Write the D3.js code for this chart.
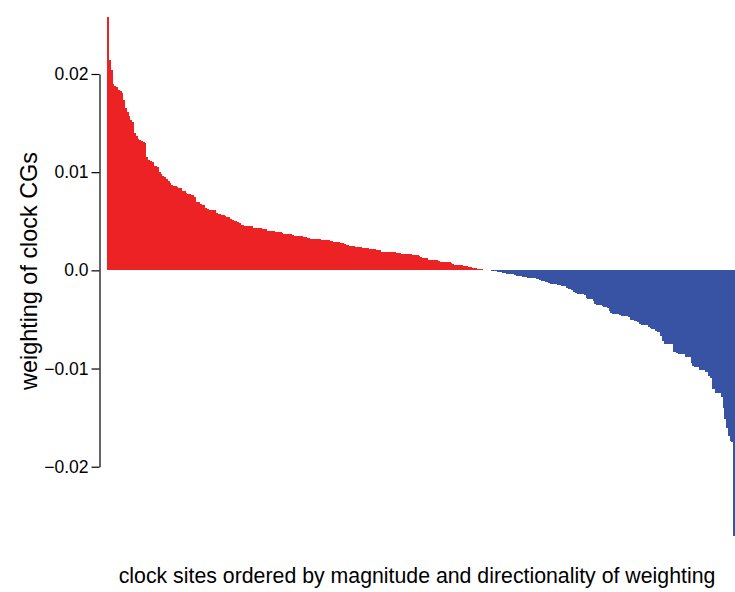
<!DOCTYPE html>
<html><head><meta charset="utf-8">
<script src="https://cdn.jsdelivr.net/npm/d3@7"></script>
<style>
body{margin:0;background:#fff}
svg{display:block}
text{font-family:"Liberation Sans",Arial,Helvetica,sans-serif;fill:#000}
</style></head>
<body><svg id="chart" width="735" height="592"></svg>
<script>
// positive clock-site weights (sorted descending)
const positiveWeights = [
 0.0258, 0.0214, 0.0204, 0.0190, 0.0188, 0.0187, 0.0184, 0.0183, 0.0181, 0.0174,
 0.0165, 0.0161, 0.0157, 0.0153, 0.0151, 0.0140, 0.0137, 0.0134, 0.0133, 0.0132,
 0.0131, 0.0130, 0.0115, 0.0112, 0.0111, 0.0110, 0.0106, 0.0106, 0.0105, 0.0100,
 0.0098, 0.0096, 0.0095, 0.0093, 0.0091, 0.0089, 0.0087, 0.0086, 0.0086, 0.0085,
 0.0084, 0.0084, 0.0081, 0.0081, 0.0079, 0.0078, 0.0078, 0.0077, 0.0077, 0.0075,
 0.0070, 0.0070, 0.0068, 0.0067, 0.0067, 0.0063, 0.0062, 0.0061, 0.0061, 0.0061,
 0.0061, 0.0058, 0.0057, 0.0057, 0.0056, 0.0056, 0.0055, 0.0054, 0.0054, 0.0052,
 0.0051, 0.0050, 0.0050, 0.0049, 0.0048, 0.00458, 0.00458, 0.00448, 0.00448, 0.00448,
 0.00448, 0.00448, 0.0043, 0.00428, 0.00428, 0.00428, 0.00428, 0.00418, 0.00418, 0.00418,
 0.00397, 0.00397, 0.00397, 0.00397, 0.00387, 0.00387, 0.00387, 0.00387, 0.00377, 0.00367,
 0.00367, 0.00367, 0.00367, 0.00367, 0.00356, 0.00346, 0.00346, 0.00346, 0.00346, 0.00346,
 0.00336, 0.00336, 0.00326, 0.00326, 0.00316, 0.00316, 0.00316, 0.00316, 0.00316, 0.00316,
 0.00305, 0.00305, 0.00305, 0.00305, 0.00305, 0.00295, 0.00295, 0.00285, 0.00285, 0.00285,
 0.00285, 0.00275, 0.00275, 0.00265, 0.00255, 0.00255, 0.00244, 0.00244, 0.00244, 0.00234,
 0.00234, 0.00234, 0.00234, 0.00224, 0.00224, 0.00224, 0.00224, 0.00214, 0.00214, 0.00214,
 0.00214, 0.00204, 0.00204, 0.00204, 0.0019, 0.00183, 0.00183, 0.00183, 0.00183, 0.00183,
 0.00183, 0.00183, 0.00173, 0.00173, 0.00173, 0.00163, 0.00163, 0.00163, 0.00163, 0.00163,
 0.00163, 0.00153, 0.00153, 0.00153, 0.00153, 0.00143, 0.00132, 0.00122, 0.00122, 0.00122,
 0.00102, 0.00102, 0.00102, 0.00102, 0.00102, 0.00102, 0.00092, 0.00081, 0.00081, 0.00081,
 0.00081, 0.00081, 0.00081, 0.00071, 0.00061, 0.00051, 0.00051, 0.00051, 0.00051, 0.00051,
 0.00041, 0.00041, 0.00041, 0.00031, 0.00031, 0.0002, 0.0002, 0.0002, 0.0001, 0.0001,
 0.0001, 0.00005, 0.00005, 0.00005, 0.00005, 0.00005
];
// negative clock-site weights (sorted by magnitude, ascending)
const negativeWeights = [
 -0.0001, -0.0001, -0.0001, -0.0002, -0.0002, -0.0002, -0.0003, -0.0003, -0.0004, -0.0004,
 -0.0004, -0.0004, -0.0004, -0.0005, -0.0006, -0.0006, -0.0006, -0.0007, -0.0007, -0.0007,
 -0.0008, -0.0008, -0.0008, -0.0008, -0.0008, -0.0009, -0.0009, -0.0010, -0.0011, -0.0011,
 -0.0012, -0.0012, -0.0013, -0.0014, -0.0014, -0.0014, -0.0014, -0.0015, -0.0015, -0.0016,
 -0.0016, -0.0016, -0.0018, -0.0019, -0.0019, -0.0020, -0.0022, -0.0023, -0.0024, -0.0024,
 -0.0024, -0.0024, -0.0025, -0.0028, -0.0029, -0.0029, -0.0029, -0.0031, -0.0034, -0.0035,
 -0.0035, -0.0035, -0.0036, -0.0037, -0.0037, -0.0038, -0.0041, -0.0043, -0.0044, -0.0044,
 -0.0044, -0.0044, -0.0045, -0.0046, -0.0046, -0.0046, -0.0046, -0.0048, -0.0051, -0.0051,
 -0.0052, -0.0052, -0.0053, -0.0055, -0.0056, -0.0056, -0.0056, -0.0056, -0.0058, -0.0059,
 -0.0060, -0.0060, -0.0062, -0.0063, -0.0063, -0.0067, -0.0072, -0.0075, -0.0075, -0.0075,
 -0.0075, -0.0075, -0.0083, -0.0083, -0.0084, -0.0085, -0.0085, -0.0085, -0.0085, -0.0088,
 -0.0088, -0.0088, -0.0094, -0.0097, -0.0098, -0.0098, -0.0098, -0.0102, -0.0102, -0.0102,
 -0.0104, -0.0104, -0.0108, -0.0110, -0.0121, -0.0121, -0.0125, -0.0125, -0.0125, -0.0129,
 -0.0140, -0.0151, -0.0161, -0.0169, -0.0174, -0.0175, -0.0271
];
const yTickValues = [0.02, 0.01, 0, -0.01, -0.02];
const yTickLabels = ["0.02", "0.01", "0.0", "\u22120.01", "\u22120.02"];
const yTitle = "weighting of clock CGs";
const xTitle = "clock sites ordered by magnitude and directionality of weighting";
const posColor = "#ED2224", negColor = "#3953A4";

const weights = positiveWeights.concat(negativeWeights);
const svg = d3.select("#chart");

const x = d3.scaleBand().domain(d3.range(weights.length)).range([107, 735]).padding(0);
const y = d3.scaleLinear().domain([-0.02, 0.02]).range([466.7, 74]);

svg.append("g").attr("shape-rendering", "crispEdges")
  .selectAll("rect").data(weights).join("rect")
  .attr("x", (d, i) => x(i))
  .attr("width", x.bandwidth() + 0.3)
  .attr("y", d => y(Math.max(d, 0)))
  .attr("height", d => Math.abs(y(d) - y(0)))
  .attr("fill", d => d >= 0 ? posColor : negColor);

const axis = d3.axisLeft(y).tickValues(yTickValues)
  .tickFormat((d, i) => yTickLabels[i]).tickSize(8).tickSizeOuter(0).tickPadding(3);
const ag = svg.append("g").attr("transform", "translate(99.5,0)").call(axis);
ag.select(".domain").attr("stroke", "#000").attr("stroke-width", 1.2);
ag.selectAll(".tick line").attr("stroke", "#000").attr("stroke-width", 1.2);
ag.selectAll(".tick text").attr("font-size", "17.5px")
  .attr("font-family", "'Liberation Sans', Arial, sans-serif").attr("fill", "#000");

svg.append("text").attr("transform", "translate(37,271) rotate(-90)")
  .attr("text-anchor", "middle").attr("font-size", "23.4px").text(yTitle);
svg.append("text").attr("x", 417).attr("y", 583)
  .attr("text-anchor", "middle").attr("font-size", "21.3px").text(xTitle);
</script></body></html>
